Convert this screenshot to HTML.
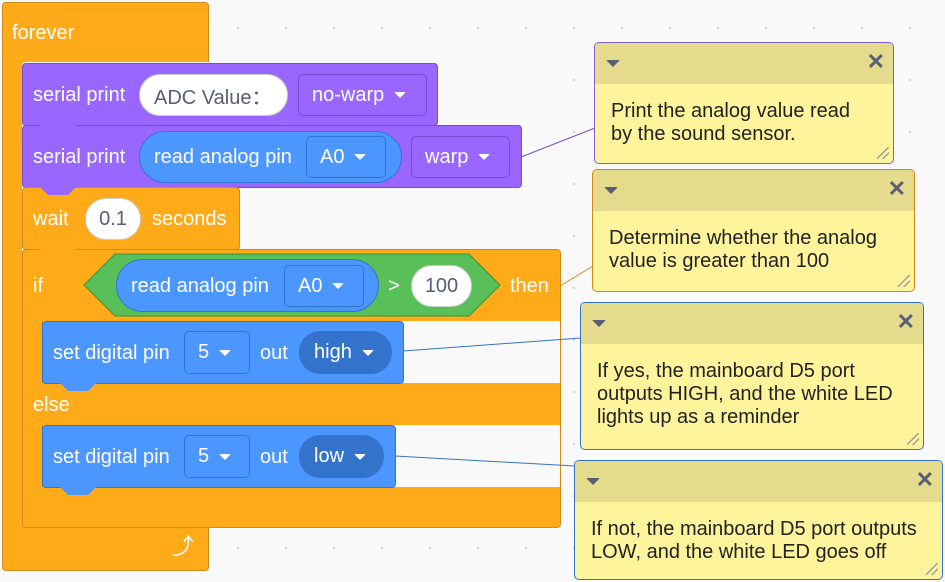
<!DOCTYPE html>
<html><head><meta charset="utf-8"><style>
*{margin:0;padding:0;box-sizing:border-box}
body{width:945px;height:582px;overflow:hidden;background:#f9f9f9;background-image:radial-gradient(circle,#d6d6d6 1px,transparent 1.5px);background-size:48px 52px;background-position:-26px 2px;position:relative;font-family:"Liberation Sans",sans-serif}
.b{position:absolute;border-radius:4px}
.t{position:absolute;color:#fff;font-size:20px;line-height:22px;white-space:nowrap}
.or{background:#FFAB19;border:1px solid #CF8B17}
.pu{background:#9966FF;border:1px solid #774DCB}
.bl{background:#4C97FF;border:1px solid #3373CC}
.pill{position:absolute;background:#fff;border:1px solid #ccc;border-radius:21px;color:#575E75;font-size:20px;display:flex;align-items:center;justify-content:center}
.dd{position:absolute;border-radius:5px;color:#fff;font-size:20px;display:flex;align-items:center;padding-left:13px}
.dd i,.dk i{display:inline-block;width:0;height:0;border-left:6px solid transparent;border-right:6px solid transparent;border-top:6px solid #fff;margin-left:10px;border-radius:2px}
.dk{position:absolute;background:#3373CC;border-radius:21px;color:#fff;font-size:20px;display:flex;align-items:center;padding-left:15px}
.n{position:absolute;height:8px;width:36px;clip-path:polygon(0 0,100% 0,78% 100%,22% 100%)}
.cm{position:absolute;background:#FEF49C;border-radius:5px;overflow:hidden}
.cm .h{height:41px;background:#E4DB8C;position:relative}
.cm .h:before{content:"";position:absolute;left:11px;top:17px;border-left:7px solid transparent;border-right:7px solid transparent;border-top:7px solid #575E75;border-radius:2px}
.cm .x{position:absolute;right:8px;top:8px;font-size:22px;color:#575E75;font-weight:bold;line-height:22px}
.cm .tx{position:absolute;left:16px;top:57px;font-size:20px;color:#222;line-height:23px;white-space:nowrap}
.cm .r{position:absolute;right:4px;bottom:4px;width:12px;height:12px;background:linear-gradient(135deg,transparent 45%,#999 46%,#999 52%,transparent 53%,transparent 70%,#999 71%,#999 77%,transparent 78%)}
</style></head><body>

<!-- forever -->
<div class="b or" style="left:2px;top:2px;width:207px;height:569px"></div>
<div class="t" style="left:12px;top:22px">forever</div>
<div class="b" style="left:22px;top:62px;width:539px;height:466px;background:#f9f9f9;border-radius:4px"></div>
<div class="t" style="left:172px;top:536px;font-size:22px">⤴</div>

<!-- if block -->
<div class="b or" style="left:22px;top:249px;width:539px;height:279px"></div>
<div class="b" style="left:42px;top:321px;width:518px;height:62px;background:#f9f9f9;border-left:1px solid #CF8B17;border-radius:0"></div>
<div class="b" style="left:42px;top:425px;width:518px;height:62px;background:#f9f9f9;border-left:1px solid #CF8B17;border-radius:0"></div>
<div class="t" style="left:33px;top:275px">if</div>
<div class="t" style="left:33px;top:394px">else</div>
<svg style="position:absolute;left:83px;top:253px" width="420" height="66"><polygon points="1,32 32,1 386,1 417,32 386,63 32,63" fill="#59C059" stroke="#389438"/></svg>
<div class="b bl" style="left:116px;top:259px;width:263px;height:53px;border-radius:27px"></div>
<div class="t" style="left:131px;top:275px">read analog pin</div>
<div class="dd" style="left:284px;top:265px;width:80px;height:42px;background:#4C97FF;border:1px solid #3373CC">A0<i></i></div>
<div class="t" style="left:388px;top:275px">&gt;</div>
<div class="pill" style="left:411px;top:265px;width:61px;height:42px">100</div>
<div class="t" style="left:510px;top:275px">then</div>

<!-- serial print 1 -->
<div class="b pu" style="left:22px;top:63px;width:416px;height:63px"></div>
<div class="t" style="left:33px;top:84px">serial print</div>
<div class="pill" style="left:139px;top:74px;width:149px;height:42px;justify-content:flex-start;padding-left:14px">ADC Value：</div>
<div class="dd" style="left:298px;top:74px;width:129px;height:42px;background:#9966FF;border:1px solid #774DCB">no-warp<i></i></div>
<!-- serial print 2 -->
<div class="b pu" style="left:22px;top:125px;width:500px;height:63px"></div>
<div class="n" style="left:40px;top:125px;background:#9966FF"></div>
<div class="t" style="left:33px;top:146px">serial print</div>
<div class="b bl" style="left:139px;top:131px;width:263px;height:52px;border-radius:27px"></div>
<div class="t" style="left:154px;top:146px">read analog pin</div>
<div class="dd" style="left:306px;top:136px;width:80px;height:42px;background:#4C97FF;border:1px solid #3373CC">A0<i></i></div>
<div class="dd" style="left:411px;top:136px;width:99px;height:42px;background:#9966FF;border:1px solid #774DCB">warp<i></i></div>
<!-- wait -->
<div class="b or" style="left:22px;top:187px;width:218px;height:63px"></div>
<div class="n" style="left:40px;top:187px;background:#9966FF"></div>
<div class="t" style="left:33px;top:208px">wait</div>
<div class="pill" style="left:85px;top:198px;width:56px;height:42px">0.1</div>
<div class="t" style="left:152px;top:208px">seconds</div>
<div class="n" style="left:40px;top:249px;background:#FFAB19"></div>

<!-- high -->
<div class="b bl" style="left:42px;top:321px;width:362px;height:63px"></div>
<div class="t" style="left:53px;top:342px">set digital pin</div>
<div class="dd" style="left:184px;top:331px;width:66px;height:43px;background:#4C97FF;border:1px solid #3373CC">5<i></i></div>
<div class="t" style="left:260px;top:342px">out</div>
<div class="dk" style="left:299px;top:331px;width:93px;height:43px">high<i></i></div>
<div class="n" style="left:60px;top:383px;background:#4C97FF"></div>
<!-- low -->
<div class="b bl" style="left:42px;top:425px;width:354px;height:63px"></div>
<div class="t" style="left:53px;top:446px">set digital pin</div>
<div class="dd" style="left:184px;top:435px;width:66px;height:43px;background:#4C97FF;border:1px solid #3373CC">5<i></i></div>
<div class="t" style="left:260px;top:446px">out</div>
<div class="dk" style="left:299px;top:435px;width:85px;height:43px">low<i></i></div>
<div class="n" style="left:60px;top:487px;background:#4C97FF"></div>
<div class="n" style="left:40px;top:528px;background:#FFAB19"></div>

<svg style="position:absolute;left:0;top:0" width="945" height="582">
<line x1="521" y1="157" x2="595" y2="128" stroke="#774DCB" stroke-width="1"/>
<line x1="560" y1="286" x2="593" y2="266" stroke="#CF8B17" stroke-width="1"/>
<line x1="403" y1="351" x2="581" y2="338" stroke="#3373CC" stroke-width="1"/>
<line x1="395" y1="456" x2="575" y2="466" stroke="#3373CC" stroke-width="1"/>
</svg>

<!-- comments -->
<div class="cm" style="left:594px;top:42px;width:300px;height:122px;border:1px solid #855CD6"><div class="h"><span class="x">✕</span></div><div class="tx">Print the analog value read<br>by the sound sensor.</div><div class="r"></div></div>
<div class="cm" style="left:592px;top:169px;width:323px;height:123px;border:1px solid #CF8B17"><div class="h"><span class="x">✕</span></div><div class="tx">Determine whether the analog<br>value is greater than 100</div><div class="r"></div></div>
<div class="cm" style="left:580px;top:302px;width:344px;height:148px;border:1px solid #3373CC"><div class="h"><span class="x">✕</span></div><div class="tx">If yes, the mainboard D5 port<br>outputs HIGH, and the white LED<br>lights up as a reminder</div><div class="r"></div></div>
<div class="cm" style="left:574px;top:460px;width:369px;height:120px;border:1px solid #3373CC"><div class="h"><span class="x">✕</span></div><div class="tx">If not, the mainboard D5 port outputs<br>LOW, and the white LED goes off</div><div class="r"></div></div>
</body></html>
